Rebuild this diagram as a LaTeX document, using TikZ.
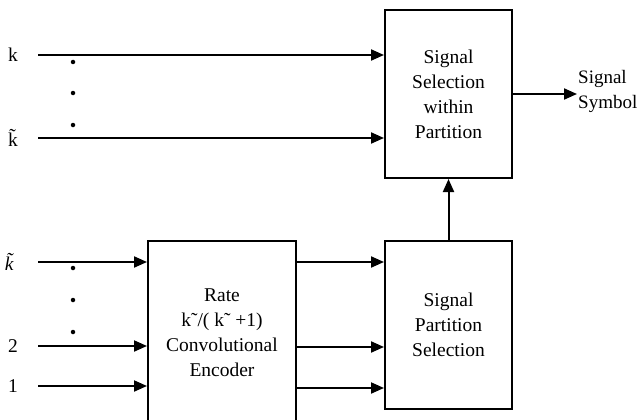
\documentclass[tikz,border=0pt]{standalone}
\usepackage{fontspec}
\setmainfont{Liberation Serif}
\usetikzlibrary{arrows.meta}
\begin{document}
\begin{tikzpicture}[x=1pt,y=-1pt,
  blk/.style={draw,line width=2pt,minimum width=127pt,align=center,inner sep=0pt,
    font=\fontsize{19.5}{25}\selectfont},
  arr/.style={line width=2pt,-{Triangle[length=13pt,width=11pt]}},
  lbl/.style={font=\fontsize{19.5}{25}\selectfont,inner sep=0pt},
  dotc/.style={circle,fill,inner sep=0pt,minimum size=4.5pt}]
\useasboundingbox (0,0) rectangle (640,420);
\clip (0,0) rectangle (640,420);
% boxes
\node[blk,minimum height=168pt] (top) at (448.5,94) {Signal\\Selection\\within\\Partition};
\node[blk,minimum height=168pt] (part) at (448.5,325) {Signal\\Partition\\Selection};
\node[blk,minimum width=148pt,minimum height=190pt] (enc) at (222,336) {};
\node[lbl,align=center] (enctxt) at (222,333) {Rate\\k\char"02DC/( k\char"02DC{} +1)\\Convolutional\\Encoder};
% labels
\node[lbl] (lk) at (13,55) {k};
\node[lbl] (lkt) at (13,138) {\~{k}};
\node[lbl] (lkb) at (13,262) {\textit{\~{k}}};
\node[lbl] (l2) at (13,346) {2};
\node[lbl] (l1) at (13,386) {1};
\node[lbl,align=left,anchor=west,font=\fontsize{19}{25}\selectfont] (sym) at (578,91) {Signal\\Symbol};
% input coordinates
\coordinate (a1) at (38,55);
\coordinate (a2) at (38,138);
\coordinate (b1) at (38,262);
\coordinate (b2) at (38,346);
\coordinate (b3) at (38,386);
% dots
\node[dotc] (d1) at (73,62) {};
\node[dotc] (d2) at (73,93) {};
\node[dotc] (d3) at (73,125) {};
\node[dotc] (d4) at (73,268) {};
\node[dotc] (d5) at (73,300) {};
\node[dotc] (d6) at (73,332) {};
% connectors
\draw[arr] (a1) -- (top.west |- a1);
\draw[arr] (a2) -- (top.west |- a2);
\draw[arr] (b1) -- (enc.west |- b1);
\draw[arr] (b2) -- (enc.west |- b2);
\draw[arr] (b3) -- (enc.west |- b3);
\coordinate (c1) at (enc.east |- 0,262);
\coordinate (c2) at (enc.east |- 0,347);
\coordinate (c3) at (enc.east |- 0,388);
\draw[arr] (c1) -- (part.west |- c1);
\draw[arr] (c2) -- (part.west |- c2);
\draw[arr] (c3) -- (part.west |- c3);
\draw[arr] (part.north) -- (top.south);
\draw[arr] (top.east) -- ([xshift=-1pt]sym.west |- top.east);
\end{tikzpicture}
\end{document}
